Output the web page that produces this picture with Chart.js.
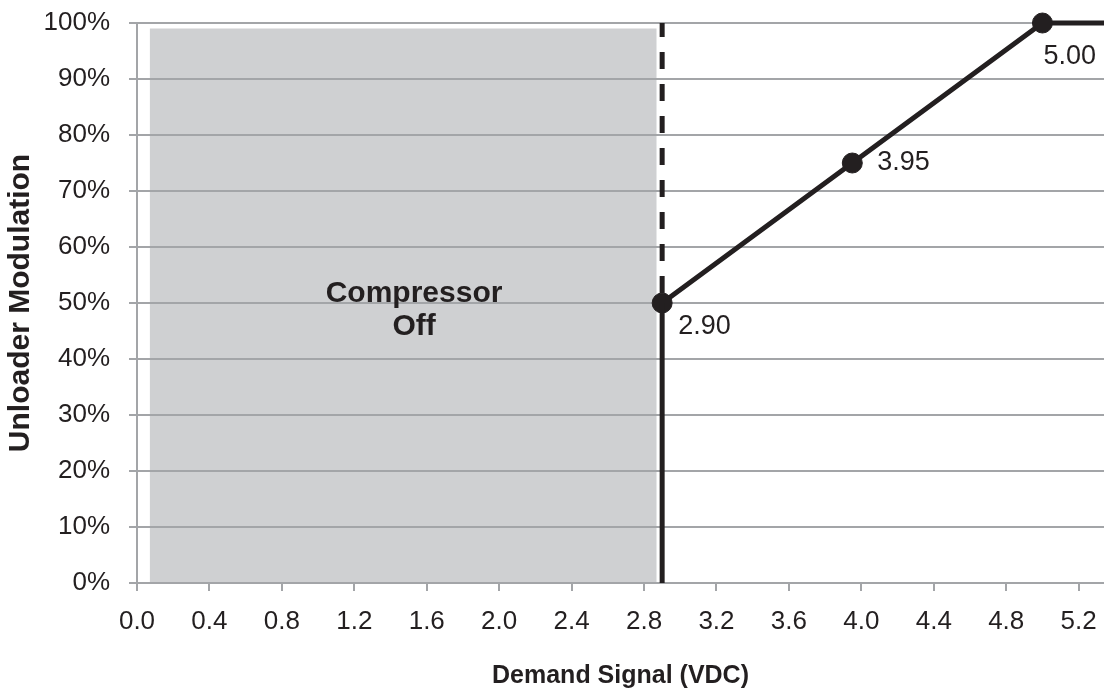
<!DOCTYPE html>
<html>
<head>
<meta charset="utf-8">
<title>Unloader Modulation vs Demand Signal</title>
<script src="https://cdn.jsdelivr.net/npm/chart.js@4.4.1/dist/chart.umd.min.js"></script>
<style>
  html, body { margin: 0; padding: 0; background: #ffffff; overflow: hidden; }
  #chart { display: block; }
</style>
</head>
<body>
<canvas id="chart" width="1104" height="694"></canvas>
<script>
// Curva de modulación (VDC -> %)
const signalVdc = [2.90, 3.95, 5.00, 5.34];
const modulation = [50, 75, 100, 100];
const markerOn = [true, true, true, false];

// Zona "Compressor Off"
const offZoneVdc = [0.07, 2.87];
const offZoneTop = [99, 99];
const offZoneText = ['Compressor', 'Off'];
const offZoneCenter = [1.53, 50];

// Línea de corte a 2.90 V
const cutVdc = [2.90, 2.90];
const cutDashed = [100, 50];
const cutSolid = [0, 50];

// Ejes
const xTicksMin = 0, xTicksMax = 5.34, xStep = 0.4;
const yTicksMin = 0, yTicksMax = 100, yStep = 10;

const ink = '#231f20';
const gridGray = '#a3a5a8';
const zoneGray = '#cfd0d2';
const fontFamily = '"Liberation Sans", Arial, Helvetica, sans-serif';

const toPoints = (xs, ys) => xs.map((x, i) => ({ x, y: ys[i] }));

// offsets de las etiquetas de valor (px, relativos al punto)
const labelOffsets = [[16, 24], [25, 0], [1, 34]];

const valueLabels = {
  id: 'valueLabels',
  afterDatasetsDraw(chart) {
    const { ctx, scales: { x, y } } = chart;
    const meta = chart.getDatasetMeta(3);
    ctx.save();
    ctx.fillStyle = ink;
    ctx.font = '27px ' + fontFamily;
    ctx.textAlign = 'left';
    ctx.textBaseline = 'middle';
    meta.data.forEach((pt, i) => {
      if (!markerOn[i]) return;
      const off = labelOffsets[i] || [0, 0];
      ctx.fillText(signalVdc[i].toFixed(2), pt.x + off[0], pt.y + off[1]);
    });
    // texto de la zona apagada
    ctx.font = 'bold 30px ' + fontFamily;
    ctx.textAlign = 'center';
    const cx = x.getPixelForValue(offZoneCenter[0]);
    const cy = y.getPixelForValue(offZoneCenter[1]);
    ctx.fillText(offZoneText[0], cx, cy - 9);
    ctx.fillText(offZoneText[1], cx, cy + 24);
    ctx.restore();
  }
};

new Chart(document.getElementById('chart'), {
  type: 'line',
  data: {
    datasets: [
      {
        label: 'Compressor Off',
        data: toPoints(offZoneVdc, offZoneTop),
        borderWidth: 0,
        pointRadius: 0,
        backgroundColor: zoneGray,
        fill: 'origin',
      },
      {
        label: 'cut dashed',
        data: toPoints(cutVdc, cutDashed),
        borderColor: ink,
        borderWidth: 5,
        borderDash: [17, 15],
        borderDashOffset: 3,
        pointRadius: 0,
        fill: false,
        clip: false,
      },
      {
        label: 'cut solid',
        data: toPoints(cutVdc, cutSolid),
        borderColor: ink,
        borderWidth: 5,
        pointRadius: 0,
        fill: false,
        clip: false,
      },
      {
        label: 'Unloader Modulation',
        data: toPoints(signalVdc, modulation),
        borderColor: ink,
        borderWidth: 5,
        pointRadius: markerOn.map(m => (m ? 10 : 0)),
        pointBackgroundColor: ink,
        pointBorderColor: ink,
        pointBorderWidth: 1,
        fill: false,
        clip: false,
      },
    ],
  },
  options: {
    responsive: false,
    animation: false,
    events: [],
    layout: { autoPadding: false, padding: { top: 23, right: 0, left: 0, bottom: 0 } },
    plugins: {
      legend: { display: false },
      tooltip: { enabled: false },
      filler: { drawTime: 'beforeDraw' },
    },
    scales: {
      x: {
        type: 'linear',
        min: xTicksMin,
        max: xTicksMax,
        afterFit: (s) => { s.height = 111; s.paddingLeft = 0; s.paddingRight = 0; },
        ticks: {
          stepSize: xStep,
          includeBounds: false,
          autoSkip: false,
          maxRotation: 0,
          padding: 15,
          color: ink,
          font: { family: fontFamily, size: 26 },
          callback: (v) => Number(v).toFixed(1),
        },
        grid: { drawOnChartArea: false, tickLength: 8, color: gridGray, lineWidth: 2 },
        border: { color: gridGray, width: 2 },
        title: {
          display: true,
          text: 'Demand Signal (VDC)',
          color: ink,
          font: { family: fontFamily, size: 25, weight: 'bold' },
          padding: { top: 0, bottom: 3 },
        },
      },
      y: {
        type: 'linear',
        min: yTicksMin,
        max: yTicksMax,
        afterFit: (s) => { s.width = 137; s.paddingTop = 0; s.paddingBottom = 0; },
        ticks: {
          stepSize: yStep,
          padding: 19,
          color: ink,
          font: { family: fontFamily, size: 26 },
          callback: (v) => v + '%',
        },
        grid: { tickLength: 8, color: gridGray, lineWidth: 2 },
        border: { color: gridGray, width: 2 },
        title: {
          display: true,
          text: 'Unloader Modulation',
          color: ink,
          font: { family: fontFamily, size: 30, weight: 'bold' },
          padding: { top: 3, bottom: 0 },
        },
      },
    },
  },
  plugins: [valueLabels],
});
</script>
</body>
</html>
